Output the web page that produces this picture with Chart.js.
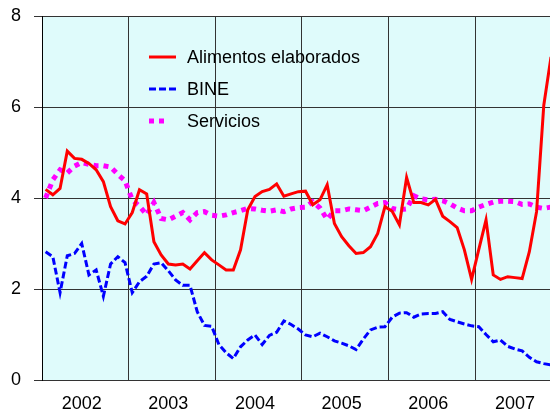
<!DOCTYPE html>
<html>
<head>
<meta charset="utf-8">
<script src="https://cdn.jsdelivr.net/npm/chart.js@4"></script>
<style>
  html, body { margin: 0; padding: 0; background: #fff; }
</style>
</head>
<body>
<canvas id="chart" width="550" height="412"></canvas>
<script>
// Monthly series, Jan 2002 .. Nov 2007

const years = ['2002', '2003', '2004', '2005', '2006', '2007'];

const alimentos = [
  4.19, 4.07, 4.21, 5.03, 4.87, 4.85, 4.76, 4.62, 4.36, 3.81, 3.50, 3.43,
  3.68, 4.18, 4.09, 3.04, 2.75, 2.55, 2.53, 2.55, 2.44, 2.62, 2.80, 2.64,
  2.53, 2.42, 2.42, 2.86, 3.74, 4.03, 4.14, 4.19, 4.31, 4.04, 4.09, 4.14,
  4.15, 3.85, 3.96, 4.29, 3.44, 3.15, 2.95, 2.78, 2.80, 2.93, 3.22, 3.81,
  3.71, 3.41, 4.45, 3.90, 3.90, 3.85, 3.97, 3.60, 3.48, 3.35, 2.86, 2.21,
  2.87, 3.52, 2.31, 2.21, 2.27, 2.25, 2.23, 2.82, 3.70, 6.04, 7.10
];

const bine = [
  2.82, 2.71, 1.92, 2.73, 2.78, 3.00, 2.31, 2.42, 1.84, 2.55, 2.71, 2.58,
  1.92, 2.16, 2.28, 2.55, 2.58, 2.40, 2.20, 2.08, 2.08, 1.50, 1.20, 1.18,
  0.78, 0.60, 0.47, 0.73, 0.88, 0.99, 0.78, 0.98, 1.05, 1.30, 1.22, 1.12,
  0.99, 0.95, 1.03, 0.95, 0.86, 0.81, 0.75, 0.67, 0.90, 1.10, 1.16, 1.17,
  1.38, 1.47, 1.48, 1.38, 1.45, 1.46, 1.46, 1.50, 1.33, 1.28, 1.23, 1.19,
  1.17, 1.00, 0.84, 0.88, 0.74, 0.68, 0.64, 0.50, 0.40, 0.36, 0.33
];

const servicios = [
  4.00, 4.40, 4.62, 4.55, 4.70, 4.78, 4.74, 4.71, 4.71, 4.68, 4.52, 4.38,
  3.96, 3.82, 3.63, 3.90, 3.55, 3.52, 3.60, 3.68, 3.52, 3.68, 3.70, 3.62,
  3.60, 3.63, 3.68, 3.72, 3.77, 3.76, 3.73, 3.71, 3.74, 3.70, 3.76, 3.79,
  3.80, 3.92, 3.78, 3.53, 3.72, 3.72, 3.76, 3.74, 3.72, 3.80, 3.88, 3.90,
  3.77, 3.74, 3.76, 4.05, 3.98, 3.96, 3.97, 3.94, 3.87, 3.78, 3.72, 3.72,
  3.80, 3.86, 3.91, 3.93, 3.93, 3.92, 3.86, 3.87, 3.80, 3.77, 3.80
];

const yTicks = [0, 2, 4, 6, 8];

const fontFamily = '"Liberation Sans", Arial, sans-serif';
const plotBg = '#dffbfb';
const gridColor = '#333';
const xMax = 70.36; // right edge of the visible plot, in months

// month i sits in the middle of its slot
const toPoints = arr => arr.map((v, i) => ({ x: i + 0.5, y: v }));

// light cyan plot area
const plotBackground = {
  id: 'plotBackground',
  beforeDraw(chart) {
    const { ctx, chartArea: a } = chart;
    ctx.save();
    ctx.fillStyle = plotBg;
    ctx.fillRect(a.left, a.top, a.right - a.left, a.bottom - a.top);
    ctx.restore();
  }
};

// legend sitting inside the plot
const insideLegend = {
  id: 'insideLegend',
  afterDatasetsDraw(chart) {
    const { ctx, chartArea: a } = chart;
    chart.data.datasets.forEach((ds, i) => {
      const y = a.top + 41 + i * 32;
      const x0 = a.left + 107;
      const len = ds.legendLen || 27;
      ctx.save();
      ctx.strokeStyle = ds.borderColor;
      ctx.lineWidth = ds.borderWidth;
      ctx.setLineDash(ds.borderDash || []);
      ctx.beginPath();
      ctx.moveTo(x0, y);
      ctx.lineTo(x0 + len, y);
      ctx.stroke();
      ctx.setLineDash([]);
      ctx.fillStyle = '#000';
      ctx.font = '18px ' + fontFamily;
      ctx.textBaseline = 'middle';
      ctx.fillText(ds.label, x0 + 38, y + 1);
      ctx.restore();
    });
  }
};

const ctx = document.getElementById('chart').getContext('2d');
const chart = new Chart(ctx, {
  type: 'line',
  data: {
    datasets: [{
      label: 'Alimentos elaborados',
      data: toPoints(alimentos),
      borderColor: '#ff0000',
      borderWidth: 3,
      pointRadius: 0,
      tension: 0
    }, {
      label: 'BINE',
      data: toPoints(bine),
      borderColor: '#0000ff',
      borderWidth: 3,
      borderDash: [7, 3],
      pointRadius: 0,
      tension: 0
    }, {
      label: 'Servicios',
      data: toPoints(servicios),
      borderColor: '#ff00ff',
      borderWidth: 5,
      borderDash: [5, 5],
      legendLen: 17,
      pointRadius: 0,
      tension: 0
    }]
  },
  options: {
    responsive: false,
    animation: false,
    layout: { padding: { top: 16, right: 0, bottom: 0, left: 0 } },
    plugins: {
      legend: { display: false },
      tooltip: { enabled: false }
    },
    scales: {
      // year separators
      x: {
        type: 'linear',
        position: 'bottom',
        min: 0,
        max: xMax,
        grid: { color: gridColor, lineWidth: 1, drawTicks: false },
        border: { display: false },
        ticks: { display: false },
        afterBuildTicks: axis => { axis.ticks = years.map((_, k) => ({ value: 12 * k })); },
        afterFit: axis => { axis.height = 0; }
      },
      // year labels, centred on each year
      xYears: {
        type: 'linear',
        position: 'bottom',
        min: 0,
        max: xMax,
        grid: { display: false, drawTicks: false },
        border: { display: false },
        ticks: {
          color: '#000',
          font: { family: fontFamily, size: 18 },
          padding: 13,
          maxRotation: 0,
          autoSkip: false,
          callback: v => years[Math.round((v - 5.5) / 12)]
        },
        afterBuildTicks: axis => { axis.ticks = years.map((_, k) => ({ value: 12 * k + 5.5 })); },
        afterFit: axis => {
          axis.height = 32;
          axis.paddingLeft = 0;
          axis.paddingRight = 0;
        }
      },
      y: {
        min: 0,
        max: 8,
        grid: { color: gridColor, lineWidth: 1, tickLength: 8 },
        border: { color: '#000', width: 1 },
        ticks: {
          color: '#000',
          font: { family: fontFamily, size: 18 },
          padding: 13
        },
        afterBuildTicks: axis => { axis.ticks = yTicks.map(v => ({ value: v })); },
        afterFit: axis => {
          axis.width = 42;
          axis.paddingTop = 0;
          axis.paddingBottom = 0;
        }
      }
    }
  },
  plugins: [plotBackground, insideLegend]
});
</script>
</body>
</html>
